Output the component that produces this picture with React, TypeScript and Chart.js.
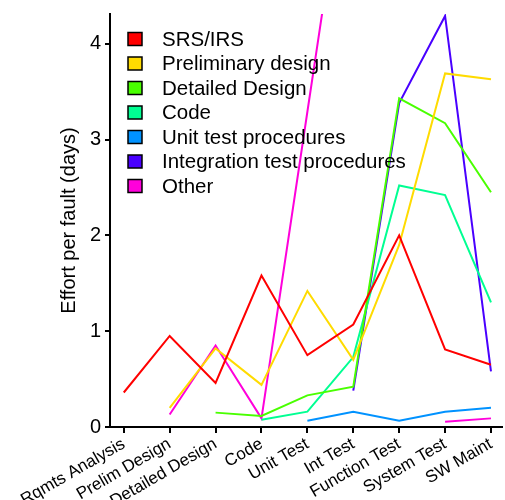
import React, { useEffect, useRef } from "react";
import { Chart, registerables } from "chart.js";

Chart.register(...registerables);

const categories = [
  "Rqmts Analysis",
  "Prelim Design",
  "Detailed Design",
  "Code",
  "Unit Test",
  "Int Test",
  "Function Test",
  "System Test",
  "SW Maint",
];

const seriesNames = [
  "SRS/IRS",
  "Preliminary design",
  "Detailed Design",
  "Code",
  "Unit test procedures",
  "Integration test procedures",
  "Other",
];

const seriesColors = ["#FF0000", "#FFDB00", "#49FF00", "#00FF92", "#0092FF", "#4900FF", "#FF00DB"];

const srsIrs = [0.36, 0.95, 0.46, 1.58, 0.75, 1.07, 2.0, 0.81, 0.65];
const preliminaryDesign = [null, 0.2, 0.82, 0.44, 1.42, 0.7, 1.9, 3.69, 3.63];
const detailedDesign = [null, null, 0.15, 0.115, 0.33, 0.42, 3.43, 3.17, 2.45];
const codeSeries = [null, null, null, 0.075, 0.16, 0.73, 2.52, 2.42, 1.3];
const unitTestProcedures = [null, null, null, null, 0.066, 0.16, 0.066, 0.16, 0.2];
const integrationTestProcedures = [null, null, null, null, null, 0.38, 3.38, 4.29, 0.58];
const other = [null, 0.13, 0.85, 0.09, 3.29, 6.48, null, 0.055, 0.09];

const yTicks = [0, 1, 2, 3, 4];
const yTitle = "Effort per fault (days)";

const allSeries = [
  srsIrs,
  preliminaryDesign,
  detailedDesign,
  codeSeries,
  unitTestProcedures,
  integrationTestProcedures,
  other,
];

const FONT = '"Liberation Sans", Arial, Helvetica, sans-serif';

const insideLegend = {
  id: "insideLegend",
  afterDatasetsDraw(chart: any) {
    const ctx = chart.ctx;
    const left = chart.chartArea.left;
    const top = chart.chartArea.top;
    ctx.save();
    ctx.font = `20.5px ${FONT}`;
    ctx.textBaseline = "middle";
    ctx.textAlign = "left";
    seriesNames.forEach((name, i) => {
      const cy = top + 25 + i * 24.5;
      ctx.fillStyle = seriesColors[i];
      ctx.fillRect(left + 18, cy - 6.5, 14, 13);
      ctx.strokeStyle = "#000";
      ctx.lineWidth = 1.5;
      ctx.strokeRect(left + 18, cy - 6.5, 14, 13);
      ctx.fillStyle = "#000";
      ctx.fillText(name, left + 52, cy + 1);
    });
    ctx.restore();
  },
};

export default function App() {
  const ref = useRef<HTMLCanvasElement>(null);

  useEffect(() => {
    document.body.style.margin = "0";
    const canvas = ref.current;
    if (!canvas) return;
    const chart = new Chart(canvas, {
      type: "line",
      data: {
        datasets: allSeries.map((s, k) => ({
          label: seriesNames[k],
          data: s.map((v, i) => ({ x: i, y: v })),
          borderColor: seriesColors[k],
          backgroundColor: seriesColors[k],
          borderWidth: 2,
          pointRadius: 0,
          pointHoverRadius: 0,
          tension: 0,
          spanGaps: false,
        })),
      },
      options: {
        responsive: false,
        animation: false,
        events: [],
        layout: { padding: { top: 14, right: 3, left: 0, bottom: 0 } },
        plugins: {
          legend: { display: false },
          tooltip: { enabled: false },
        },
        scales: {
          x: {
            type: "linear",
            min: -0.3,
            max: 8.24,
            afterFit: (s: any) => {
              s.height = 73;
              s.paddingLeft = 0;
              s.paddingRight = 0;
            },
            ticks: {
              stepSize: 1,
              includeBounds: false,
              autoSkip: false,
              maxRotation: 30,
              minRotation: 30,
              color: "#000",
              padding: 1,
              font: { family: FONT, size: 17 },
              callback: (v: any) => categories[Math.round(Number(v))] ?? "",
            },
            grid: {
              drawOnChartArea: false,
              drawTicks: true,
              tickLength: 6,
              color: "#000",
              lineWidth: 2,
            },
            border: { display: true, color: "#000", width: 2 },
          },
          y: {
            type: "linear",
            min: 0,
            max: 4.31,
            afterFit: (s: any) => {
              s.width = 110;
              s.paddingTop = 0;
              s.paddingBottom = 0;
            },
            ticks: {
              stepSize: 1,
              includeBounds: false,
              color: "#000",
              padding: 4,
              font: { family: FONT, size: 20 },
              callback: (v: any) => (yTicks.includes(Number(v)) ? String(v) : ""),
            },
            grid: {
              drawOnChartArea: false,
              drawTicks: true,
              tickLength: 5,
              color: "#000",
              lineWidth: 2,
            },
            border: { display: true, color: "#000", width: 2 },
            title: {
              display: true,
              text: yTitle,
              color: "#000",
              font: { family: FONT, size: 20 },
              padding: { top: 57, bottom: 0 },
            },
          },
        },
      },
      plugins: [insideLegend],
    });
    return () => chart.destroy();
  }, []);

  return <canvas ref={ref} width={505} height={500} style={{ display: "block" }} />;
}
